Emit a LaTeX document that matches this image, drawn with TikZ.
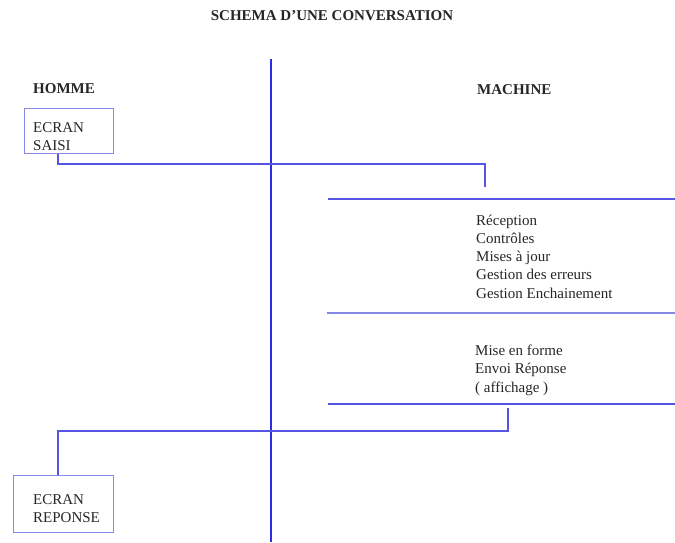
\documentclass[tikz,border=0pt]{standalone}
\usepackage{fontspec}
\setmainfont{Liberation Serif}
\usepackage{tikz}
\usetikzlibrary{positioning}
\definecolor{axisblue}{RGB}{45,45,230}
\definecolor{lineblue}{RGB}{85,85,225}
\definecolor{boxblue}{RGB}{135,135,230}

\begin{document}
\begin{tikzpicture}[x=1pt,y=-1pt,
  txt/.style={font=\fontsize{15}{18}\selectfont,inner sep=0pt,text=black!85},
  head/.style={txt,font=\fontsize{15}{18}\selectfont\bfseries},
  screenbox/.style={draw=boxblue,line width=1pt,inner sep=0pt,anchor=north west},
  sepline/.style={draw=lineblue,line width=1.6pt},
  link/.style={draw=lineblue,line width=1.3pt}]
\useasboundingbox (0,0) rectangle (675,542);
\node[head,anchor=base] (title) at (332,20) {SCHEMA D'UNE CONVERSATION};
\node[head,anchor=base west] (homme) at (33,93) {HOMME};
\node[head,anchor=base west] (machine) at (477,94) {MACHINE};
% axe central
\draw[axisblue,line width=1.6pt] (271,59) -- (271,542);
% ecrans cote homme
\node[screenbox,minimum width=89pt,minimum height=45pt] (saisi) at (24,108) {};
\node[txt,anchor=base west] (saisi1) at (33,132) {ECRAN};
\node[txt,anchor=base west] (saisi2) at (33,150) {SAISI};
\node[screenbox,minimum width=100pt,minimum height=57pt] (reponse) at (13,475) {};
\node[txt,anchor=base west] (reponse1) at (33,504) {ECRAN};
\node[txt,anchor=base west] (reponse2) at (33,522) {REPONSE};
% traitements cote machine
\draw[sepline] (328,199) -- (675,199);
\draw[sepline,line width=1.1pt,draw=boxblue] (327,313) -- (675,313);
\draw[sepline] (328,404) -- (675,404);
\foreach \t [count=\i] in {Réception,Contrôles,Mises à jour,Gestion des erreurs,Gestion Enchainement}
  \node[txt,anchor=base west] (recu\i) at (476,{225+18.3*(\i-1)}) {\t};
\foreach \t [count=\i] in {Mise en forme,Envoi Réponse,( affichage )}
  \node[txt,anchor=base west] (envoi\i) at (475,{355+18.5*(\i-1)}) {\t};
% liaisons
\coordinate (kink1) at (58,164);
\coordinate (in1) at (485,187);
\coordinate (out2) at (508,408);
\coordinate (kink2) at (58,431);
\draw[link] (saisi.south -| kink1) -- (kink1) -| (in1);
\draw[link] (out2) |- (kink2) -- (reponse.north -| kink2);
\end{tikzpicture}
\end{document}
